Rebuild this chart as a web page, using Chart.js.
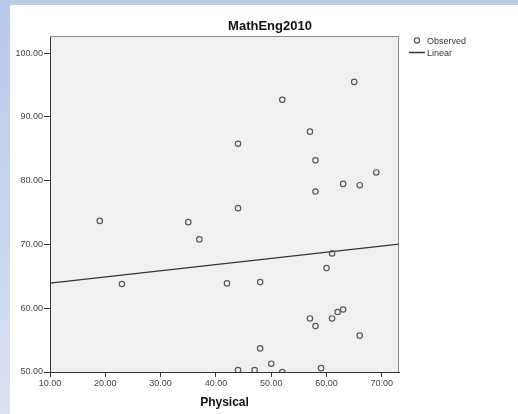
<!DOCTYPE html>
<html>
<head>
<meta charset="utf-8">
<script src="https://cdn.jsdelivr.net/npm/chart.js@4"></script>
<style>
  html, body { margin: 0; padding: 0; background: #fff; }
  #wrap { position: relative; width: 518px; height: 414px; overflow: hidden; }
  #topStrip { position: absolute; left: 0; top: 0; width: 518px; height: 5px; background: #b9caea; }
  #leftStrip { position: absolute; left: 0; top: 0; width: 10px; height: 414px;
    background: linear-gradient(to bottom, #b6c8ea, #d8e2f4); }
  #chart { position: absolute; left: 0; top: 0; }
</style>
</head>
<body>
<div id="wrap">
  <div id="topStrip"></div>
  <div id="leftStrip"></div>
  <canvas id="chart" width="518" height="414"></canvas>
</div>
<script>
// Observed points (Physical, MathEng2010)
const physical = [19, 23, 35, 37, 42, 44, 44, 44, 47, 48, 48, 50, 52, 52, 57, 57, 58, 58, 58, 59, 60, 61, 61, 62, 63, 63, 65, 66, 66, 69];
const mathEng  = [73.7, 63.8, 73.5, 70.8, 63.9, 85.8, 75.7, 50.3, 50.3, 64.1, 53.7, 51.3, 92.7, 50.0, 87.7, 58.4, 83.2, 78.3, 57.2, 50.6, 66.3, 68.6, 58.4, 59.4, 59.8, 79.5, 95.5, 79.3, 55.7, 81.3];

// Linear fit line, ends at the plot edges
const fitX = [10, 73.1];
const fitY = [63.95, 70.05];

// Tick labels
const xTicks = [10, 20, 30, 40, 50, 60, 70];
const yTicks = [50, 60, 70, 80, 90, 100];

const FONT = '"Liberation Sans", Arial, sans-serif';

const spssFrame = {
    id: 'spssFrame',
    beforeDraw(chart) {
        const { ctx, chartArea: a } = chart;
        ctx.save();
        ctx.fillStyle = '#f0f0f0';
        ctx.fillRect(a.left, a.top, a.right - a.left, a.bottom - a.top);
        ctx.restore();
    },
    afterDraw(chart) {
        const { ctx, chartArea: a } = chart;
        ctx.save();
        // top and right frame
        ctx.strokeStyle = '#8a8a8a';
        ctx.lineWidth = 1;
        ctx.beginPath();
        ctx.moveTo(a.left, a.top + 0.5);
        ctx.lineTo(a.right - 0.5, a.top + 0.5);
        ctx.lineTo(a.right - 0.5, a.bottom);
        ctx.stroke();

        // title
        ctx.fillStyle = '#111';
        ctx.font = 'bold 13px ' + FONT;
        ctx.textAlign = 'center';
        ctx.textBaseline = 'middle';
        ctx.fillText('MathEng2010', 270, 26);

        // legend
        ctx.font = '9px ' + FONT;
        ctx.textAlign = 'left';
        ctx.fillStyle = '#333';
        ctx.strokeStyle = '#555';
        ctx.lineWidth = 1.2;
        ctx.beginPath();
        ctx.arc(417, 40.5, 2.6, 0, Math.PI * 2);
        ctx.stroke();
        ctx.fillText('Observed', 427, 42);
        ctx.strokeStyle = '#333';
        ctx.lineWidth = 1.5;
        ctx.beginPath();
        ctx.moveTo(409, 52.5);
        ctx.lineTo(425, 52.5);
        ctx.stroke();
        ctx.fillText('Linear', 427, 54);
        ctx.restore();
    }
};

const ctx = document.getElementById('chart').getContext('2d');
new Chart(ctx, {
    type: 'scatter',
    data: {
        datasets: [{
            label: 'Observed',
            data: physical.map((x, i) => ({ x: x, y: mathEng[i] })),
            pointStyle: 'circle',
            pointRadius: 2.7,
            pointBorderWidth: 1.2,
            pointBorderColor: '#5a5a5a',
            pointBackgroundColor: 'rgba(0,0,0,0)',
        }, {
            type: 'line',
            label: 'Linear',
            data: fitX.map((x, i) => ({ x: x, y: fitY[i] })),
            borderColor: '#333',
            borderWidth: 1.2,
            pointRadius: 0,
            fill: false,
        }]
    },
    options: {
        responsive: false,
        animation: false,
        layout: { padding: { top: 36, right: 119, left: 0, bottom: 0 } },
        plugins: {
            legend: { display: false },
            title: { display: false },
            tooltip: { enabled: false }
        },
        scales: {
            x: {
                type: 'linear',
                min: 10,
                max: 73.1,
                afterFit: s => { s.height = 42; },
                afterBuildTicks: s => { s.ticks = xTicks.map(v => ({ value: v })); },
                grid: { drawOnChartArea: false, tickLength: 5, color: '#333' },
                border: { color: '#333', width: 1 },
                ticks: {
                    padding: 1,
                    color: '#444',
                    font: { family: FONT, size: 9 },
                    callback: v => Number(v).toFixed(2)
                },
                title: {
                    display: true,
                    text: 'Physical',
                    color: '#111',
                    font: { family: FONT, size: 12, weight: 'bold' },
                    padding: { top: 0, bottom: 4 }
                }
            },
            y: {
                type: 'linear',
                min: 50,
                max: 102.7,
                afterFit: s => { s.width = 50; },
                afterBuildTicks: s => { s.ticks = yTicks.map(v => ({ value: v })); },
                grid: { drawOnChartArea: false, tickLength: 6, color: '#333' },
                border: { color: '#333', width: 1 },
                ticks: {
                    padding: 1,
                    color: '#444',
                    font: { family: FONT, size: 9 },
                    callback: v => Number(v).toFixed(2)
                }
            }
        }
    },
    plugins: [spssFrame]
});
</script>
</body>
</html>
